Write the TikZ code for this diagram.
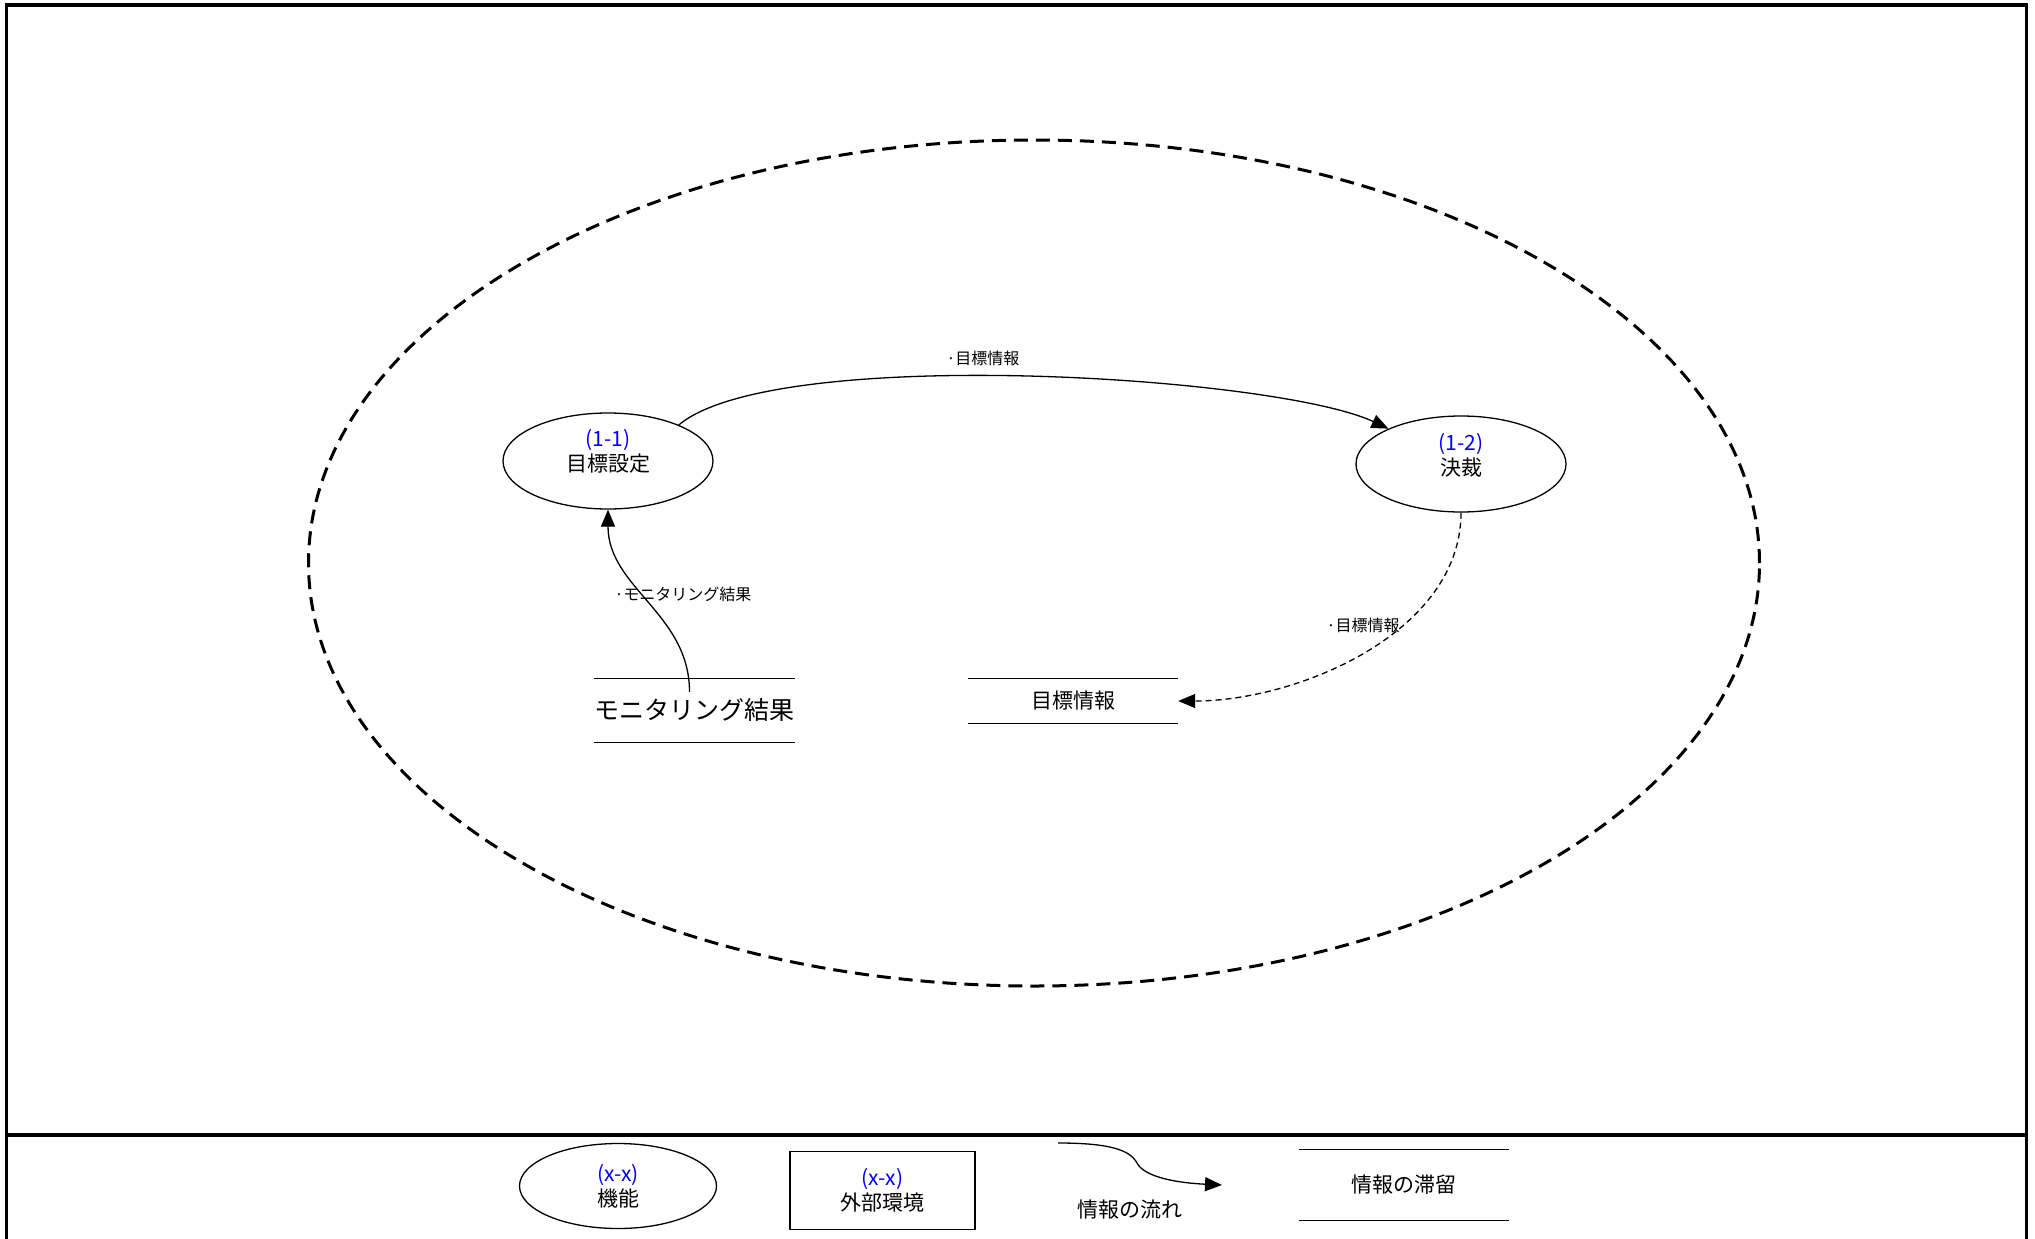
\documentclass[tikz,border=0pt]{standalone}
\usepackage{fontspec}
\setmainfont{Noto Sans CJK JP}
\usetikzlibrary{arrows.meta}
\usetikzlibrary{shapes.geometric}
\definecolor{idblue}{RGB}{0,0,255}
\newcommand{\drawstore}[4]{
	\draw #1 node (#2) [inner sep=0pt,#3] {#4};
	\draw[line width=1.3pt] (#2.north west) -- (#2.north east) (#2.south west) -- (#2.south east);
}

\begin{document}
\begin{tikzpicture}[x=1pt,y=-1pt,
	every node/.style={font=\fontsize{21}{25}\selectfont},
	fn/.style={ellipse,draw,line width=1.3pt,minimum width=210pt,minimum height=96pt,inner sep=0pt,align=center},
	flow/.style={line width=1.3pt,-{Triangle[length=17pt,width=14pt]}},
	lbl/.style={font=\fontsize{16}{19}\selectfont}]
	\useasboundingbox (0,0) rectangle (2035,1239);
	% frame and legend bar
	\draw[line width=3.5pt] (6.5,1239) -- (6.5,5) -- (2026.5,5) -- (2026.5,1239);
	\draw[line width=3.5pt] (6.5,1135) -- (2026.5,1135);
	\node (sys) [ellipse,draw,line width=3pt,dash pattern=on 14pt off 8pt,minimum width=1451pt,minimum height=846pt] at (1034,563) {};
	% functions
	\node (e11) [fn,label={[yshift=10pt,align=center]center:\textcolor{idblue}{(1-1)}\\目標設定}] at (608,461) {};
	\node (e12) [fn,label={[yshift=9pt,align=center]center:\textcolor{idblue}{(1-2)}\\決裁}] at (1461,464) {};
	% stores
	\drawstore{(694.5,710.5)}{mon}{minimum width=197pt,minimum height=63pt,font=\fontsize{25}{30}\selectfont}{モニタリング結果}
	\drawstore{(1073,701)}{goal}{minimum width=210pt,minimum height=44pt}{目標情報}
	% flows
	\draw[flow] (e11.27) to[out=40,in=155,looseness=0.45] (e12.154);
	\node[lbl] (l1) at (983,358) {·目標情報};
	\draw[flow] ([xshift=-5pt,yshift=-13pt]mon.north) to[out=90,in=-90] (e11.south);
	\node[lbl] (l2) at (683,594) {·モニタリング結果};
	\draw[flow,dash pattern=on 6pt off 4pt] (e12.south) to[out=-90,in=0,looseness=0.9] (goal.east);
	\node[lbl] (l3) at (1363,625) {·目標情報};
	% legend
	\node (lgfn) [fn,minimum width=197pt,minimum height=85pt] at (618,1186) {\textcolor{idblue}{(x-x)}\\機能};
	\node (lgext) [draw,line width=1.3pt,minimum width=185pt,minimum height=78pt,align=center] at (882.5,1190.5) {\textcolor{idblue}{(x-x)}\\外部環境};
	\coordinate (lgsrc) at (1058,1143);
	\coordinate (lgdst) at (1222,1185);
	\draw[flow] (lgsrc) .. controls (1110,1143) and (1130,1150) .. (1137,1163) .. controls (1145,1178) and (1180,1183) .. (lgdst);
	\node (lgflow) at (1130,1210) {情報の流れ};
	\drawstore{(1404,1185)}{lgstore}{minimum width=210pt,minimum height=70pt}{情報の滞留}
\end{tikzpicture}
\end{document}
